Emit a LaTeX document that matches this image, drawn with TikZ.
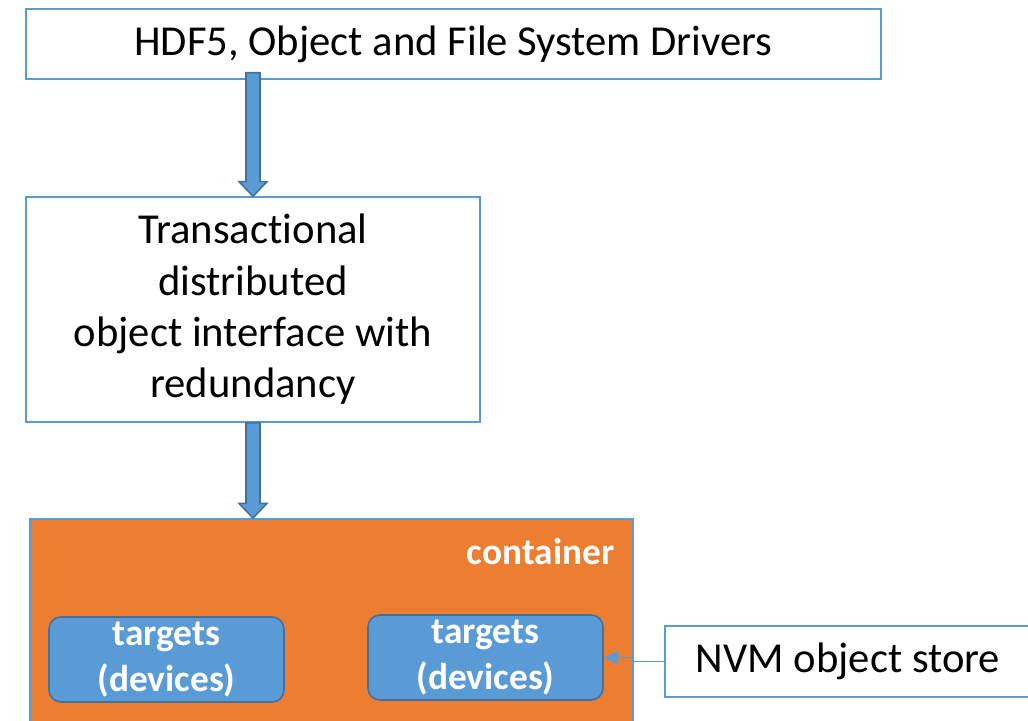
\documentclass[tikz,border=0pt]{standalone}
\usepackage{fontspec}
\setmainfont[Ligatures=CommonOff]{Carlito}
\usepackage{tikz}
\usetikzlibrary{arrows.meta,calc}

\definecolor{boxblue}{HTML}{5B9BD5}
\definecolor{darkblue}{HTML}{41719C}
\definecolor{contorange}{HTML}{ED7D31}

% thick block arrow pointing down, from #1 to #2
\newcommand{\blockarrow}[2]{%
  \filldraw[draw=darkblue, fill=boxblue, line width=1.2pt, line join=miter] let \p1=(#1), \p2=(#2) in
    (\x1-5.25pt,\y1) -- (\x1+5.25pt,\y1) -- (\x1+5.25pt,\y2+11pt) -- (\x1+10.5pt,\y2+11pt)
    -- (\x1,\y2) -- (\x1-10.5pt,\y2+11pt) -- (\x1-5.25pt,\y2+11pt) -- cycle;}

\begin{document}
\begin{tikzpicture}[x=0.75pt,y=-0.75pt,>={Triangle[length=11pt,width=10pt]},
  plain box/.style={rectangle,draw=boxblue,fill=white,line width=1.1pt,align=center,font=\fontsize{32}{38.5}\selectfont,inner sep=0pt},
  target node/.style={rectangle,rounded corners=9pt,draw=darkblue,fill=boxblue,line width=1.2pt,text=white,align=center,
    font=\fontsize{28}{34}\selectfont\bfseries,minimum width=176.25pt,minimum height=63.75pt,inner sep=0pt}]

  \useasboundingbox (0,0) rectangle (1028,721);

  \node[plain box,minimum width=641.25pt,minimum height=52.5pt] (top) at (453.5,44) {HDF5, Object and File System Drivers};
  \node[plain box,minimum width=340.5pt,minimum height=168.75pt] (mid) at (253,309.5)
    {Transactional\\distributed\\object interface with\\redundancy};
  \node[rectangle,draw=boxblue,fill=contorange,line width=1.5pt,minimum width=452.25pt,minimum height=156pt] (cont) at (331.5,623) {};
  \node[anchor=east,text=white,font=\fontsize{28}{34}\selectfont\bfseries] (contlabel) at (619,552) {container};

  \node[target node] (t1) at (166.5,659.5) {targets\\(devices)};
  \node[target node] (t2) at (485.5,657.5) {targets\\(devices)};
  \node[plain box,minimum width=274.5pt,minimum height=53.25pt] (nvm) at (848,661.5) {NVM object store};

  \coordinate (a1s) at ($(mid.north |- top.south)+(0,5.25pt)$);
  \coordinate (a1e) at (mid.north);
  \coordinate (a2s) at (mid.south);
  \coordinate (a2e) at (mid.south |- cont.north);
  \blockarrow{a1s}{a1e}
  \blockarrow{a2s}{a2e}

  \draw[->,draw=boxblue,line width=1.2pt,color=boxblue] (nvm.west) -- ++(-31,0) |- (t2.east);

\end{tikzpicture}
\end{document}
